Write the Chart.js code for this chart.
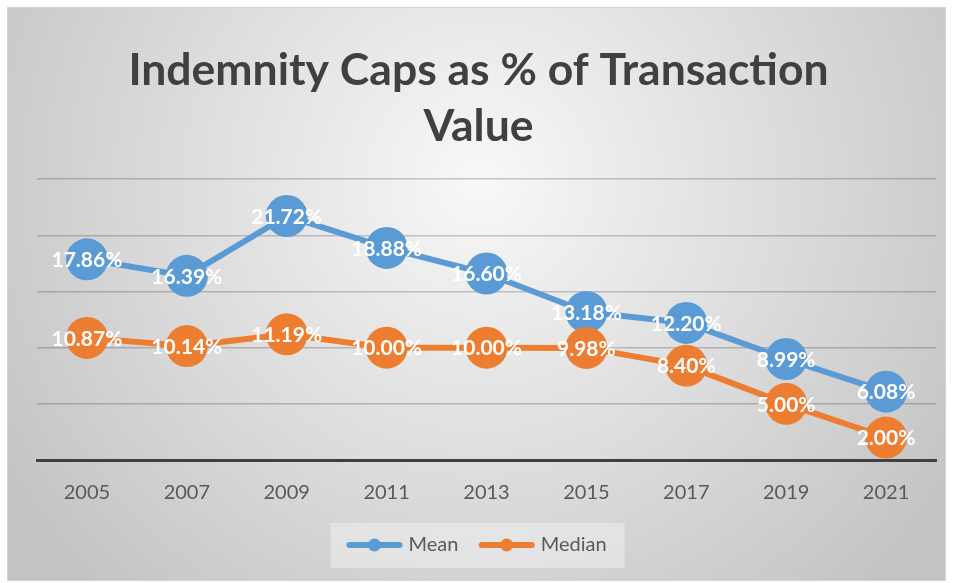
<!DOCTYPE html>
<html>
<head>
<meta charset="utf-8">
<script src="https://cdn.jsdelivr.net/npm/chart.js@4/dist/chart.umd.min.js"></script>
<style>
  html, body { margin: 0; padding: 0; background: #ffffff; }
  #wrap { width: 957px; height: 583px; }
</style>
</head>
<body>
<div id="wrap"><canvas id="line"></canvas></div>
<script>
// data
const years = ['2005', '2007', '2009', '2011', '2013', '2015', '2017', '2019', '2021'];
const meanValues = [17.86, 16.39, 21.72, 18.88, 16.60, 13.18, 12.20, 8.99, 6.08];
const medianValues = [10.87, 10.14, 11.19, 10.00, 10.00, 9.98, 8.40, 5.00, 2.00];
const yTicks = [0, 5, 10, 15, 20, 25];

const blue = '#5b9bd5';
const orange = '#ed7d31';

Chart.defaults.font.family = 'Lato';
Chart.defaults.color = '#595959';

// little "line with dot" swatch for the legend
function swatch(color) {
    let c = document.createElement('canvas');
    c.width = 58;
    c.height = 14;
    let ctx = c.getContext('2d');
    ctx.strokeStyle = color;
    ctx.lineWidth = 6;
    ctx.lineCap = 'round';
    ctx.beginPath();
    ctx.moveTo(4, 7);
    ctx.lineTo(54, 7);
    ctx.stroke();
    ctx.fillStyle = color;
    ctx.beginPath();
    ctx.arc(29, 7, 6.5, 0, Math.PI * 2);
    ctx.fill();
    return c;
}

// background gradient, frame and legend box
const backdrop = {
    id: 'backdrop',
    beforeDraw(chart) {
        let ctx = chart.ctx;
        ctx.save();
        let g = ctx.createRadialGradient(480, 180, 0, 480, 180, 560);
        g.addColorStop(0, '#f8f8f8');
        g.addColorStop(1, '#c4c4c4');
        ctx.fillStyle = g;
        ctx.fillRect(7, 7, 938, 573);
        ctx.strokeStyle = '#d4d4d4';
        ctx.lineWidth = 1;
        ctx.strokeRect(7.5, 7.5, 938, 573);

        let boxes = chart.legend.legendHitBoxes;
        if (boxes && boxes.length) {
            let left = Math.min(...boxes.map(b => b.left)) - 20;
            let right = Math.max(...boxes.map(b => b.left + b.width)) + 18;
            let cy = boxes[0].top + boxes[0].height / 2;
            ctx.fillStyle = 'rgba(255,255,255,0.35)';
            ctx.fillRect(left, cy - 22, right - left, 45);
        }
        ctx.restore();
    }
};

// white value labels sitting on the markers
const valueLabels = {
    id: 'valueLabels',
    afterDatasetsDraw(chart) {
        let ctx = chart.ctx;
        ctx.save();
        ctx.font = 'bold 21px Lato';
        ctx.fillStyle = '#ffffff';
        ctx.textAlign = 'center';
        ctx.textBaseline = 'middle';
        chart.data.datasets.forEach((ds, i) => {
            let meta = chart.getDatasetMeta(i);
            meta.data.forEach((pt, j) => {
                ctx.fillText(ds.data[j].toFixed(2) + '%', pt.x, pt.y + 1);
            });
        });
        ctx.restore();
    }
};

let chart = new Chart(document.getElementById('line').getContext('2d'), {
    type: 'line',
    data: {
        labels: years,
        datasets: [{
            label: 'Mean',
            data: meanValues,
            borderColor: blue,
            backgroundColor: blue,
            borderWidth: 6,
            pointRadius: 21,
            pointHoverRadius: 21,
            pointBorderWidth: 0,
            order: 1,
        }, {
            label: 'Median',
            data: medianValues,
            borderColor: orange,
            backgroundColor: orange,
            borderWidth: 6,
            pointRadius: 21,
            pointHoverRadius: 21,
            pointBorderWidth: 0,
            order: 0,
        }],
    },
    options: {
        responsive: true,
        maintainAspectRatio: false,
        animation: false,
        layout: {
            padding: { left: 18, right: 18, top: 7, bottom: 18 },
        },
        scales: {
            x: {
                offset: true,
                grid: { display: false, drawTicks: false },
                border: { display: true, color: '#404040', width: 3 },
                ticks: { font: { size: 20 }, color: '#595959', padding: 21 },
            },
            y: {
                min: 0,
                max: 25,
                afterBuildTicks: (axis) => { axis.ticks = yTicks.map(v => ({ value: v })); },
                afterFit: (axis) => { axis.width = 19; },
                grid: {
                    color: (c) => c.tick && c.tick.value === 0 ? 'rgba(0,0,0,0)' : 'rgba(0,0,0,0.2)',
                    lineWidth: 1.5,
                    drawTicks: false,
                },
                border: { display: false },
                ticks: { display: false },
            },
        },
        plugins: {
            title: {
                display: true,
                text: ['Indemnity Caps as % of Transaction', 'Value'],
                color: '#404040',
                font: { size: 44.5, weight: 'bold', lineHeight: 1.26 },
                padding: { top: 36, bottom: 24 },
            },
            legend: {
                display: true,
                position: 'bottom',
                labels: {
                    usePointStyle: true,
                    pointStyleWidth: 48,
                    padding: 9,
                    font: { size: 20 },
                    color: '#595959',
                    sort: (a, b) => a.datasetIndex - b.datasetIndex,
                    generateLabels: (c) => {
                        let items = Chart.defaults.plugins.legend.labels.generateLabels(c);
                        items.forEach(it => {
                            it.pointStyle = swatch(c.data.datasets[it.datasetIndex].borderColor);
                            if (it.datasetIndex === 0) it.text = it.text + '   ';
                        });
                        return items;
                    },
                },
            },
            tooltip: { enabled: false },
        },
    },
    plugins: [backdrop, valueLabels],
});
</script>
</body>
</html>
